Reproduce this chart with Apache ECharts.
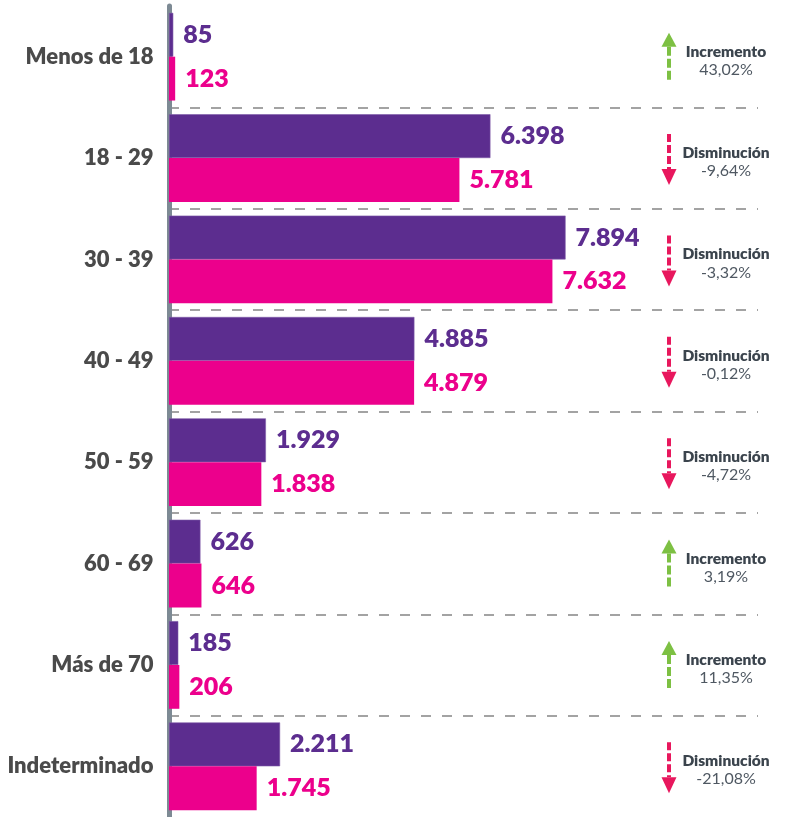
<!DOCTYPE html>
<html>
<head>
<meta charset="utf-8">
<title>Grupos de edad</title>
<script src="https://cdn.jsdelivr.net/npm/echarts@6/dist/echarts.min.js"></script>
<style>
  html, body { margin: 0; padding: 0; background: #ffffff; }
  #chart { width: 785px; height: 817px; }
</style>
</head>
<body>
<div id="chart"></div>
<script>
// age groups, top to bottom
const categories = ['Menos de 18', '18 - 29', '30 - 39', '40 - 49', '50 - 59', '60 - 69', 'Más de 70', 'Indeterminado'];
// previous period (purple) and current period (pink)
const previousValues = [85, 6398, 7894, 4885, 1929, 626, 185, 2211];
const currentValues = [123, 5781, 7632, 4879, 1838, 646, 206, 1745];
// variation in percent shown on the right
const changePct = [43.02, -9.64, -3.32, -0.12, -4.72, 3.19, 11.35, -21.08];

const PURPLE = '#5c2d8f';
const PINK = '#ec008c';
const GREEN = '#7dc043';
const RED = '#e8175d';
const FONT = 'Lato';

// 6398 -> "6.398"
function fmtThousands(v) {
  return String(v).replace(/\B(?=(\d{3})+(?!\d))/g, '.');
}
// -9.64 -> "-9,64%"
function fmtPct(v) {
  return v.toFixed(2).replace('.', ',') + '%';
}

const chart = echarts.init(document.getElementById('chart'), null, { renderer: 'canvas' });

function renderChange(params, api) {
  const idx = api.value(0);
  const pct = api.value(1);
  const c = api.coord([0, idx])[1] + 1;
  const ax = api.getWidth() - 116;
  const tx = api.getWidth() - 59;
  const up = pct >= 0;
  const color = up ? GREEN : RED;
  const children = [];
  if (up) {
    children.push({
      type: 'line',
      shape: { x1: ax, y1: c - 11, x2: ax, y2: c + 25 },
      style: { stroke: color, lineWidth: 4, lineDash: [9, 3] }
    });
    children.push({
      type: 'polygon',
      shape: { points: [[ax, c - 25], [ax + 7.5, c - 11], [ax - 7.5, c - 11]] },
      style: { fill: color }
    });
  } else {
    children.push({
      type: 'line',
      shape: { x1: ax, y1: c - 25, x2: ax, y2: c + 10 },
      style: { stroke: color, lineWidth: 4, lineDash: [8, 3] }
    });
    children.push({
      type: 'polygon',
      shape: { points: [[ax, c + 26], [ax + 7.5, c + 10], [ax - 7.5, c + 10]] },
      style: { fill: color }
    });
  }
  children.push({
    type: 'text',
    style: {
      x: tx, y: c - 6,
      text: up ? 'Incremento' : 'Disminución',
      fill: '#3b444d', font: '800 15.5px ' + FONT,
      align: 'center', verticalAlign: 'middle'
    }
  });
  children.push({
    type: 'text',
    style: {
      x: tx, y: c + 12,
      text: fmtPct(pct),
      fill: '#4f5862', font: '16px ' + FONT,
      align: 'center', verticalAlign: 'middle'
    }
  });
  return { type: 'group', children: children };
}

const barLabel = (color) => ({
  show: true,
  position: 'right',
  distance: 10,
  color: color,
  fontFamily: FONT,
  fontWeight: 800,
  fontSize: 25,
  formatter: (p) => fmtThousands(p.value)
});

const option = {
  backgroundColor: '#ffffff',
  animation: false,
  grid: { left: 169, right: 27, top: 6, bottom: -3, containLabel: false },
  xAxis: {
    type: 'value',
    min: 0,
    max: 11724,
    show: false
  },
  yAxis: {
    type: 'category',
    data: categories,
    inverse: true,
    offset: 3.5,
    axisLine: { show: true, lineStyle: { color: '#7d8a94', width: 5 } },
    axisTick: { show: false },
    axisLabel: {
      margin: 12,
      color: '#4a4a4a',
      fontFamily: FONT,
      fontWeight: 800,
      fontSize: 22
    },
    splitLine: {
      show: true,
      showMinLine: false,
      showMaxLine: false,
      lineStyle: { color: '#a3a3a3', width: 2, type: [10, 11] }
    }
  },
  series: [
    {
      name: 'Anterior',
      type: 'bar',
      data: previousValues,
      barGap: '0%',
      barCategoryGap: '13.5%',
      itemStyle: { color: PURPLE, borderColor: '#7d5aa8', borderWidth: 0.6 },
      label: barLabel(PURPLE),
      z: 3
    },
    {
      name: 'Actual',
      type: 'bar',
      data: currentValues,
      barGap: '0%',
      barCategoryGap: '13.5%',
      itemStyle: { color: PINK },
      label: barLabel(PINK),
      z: 3
    },
    {
      name: 'Variación',
      type: 'custom',
      data: categories.map((c, i) => [c, changePct[i]]),
      encode: { y: 0, x: 1 },
      renderItem: renderChange,
      silent: true,
      z: 4
    }
  ]
};

chart.setOption(option);
window.addEventListener('resize', () => chart.resize());
</script>
</body>
</html>
